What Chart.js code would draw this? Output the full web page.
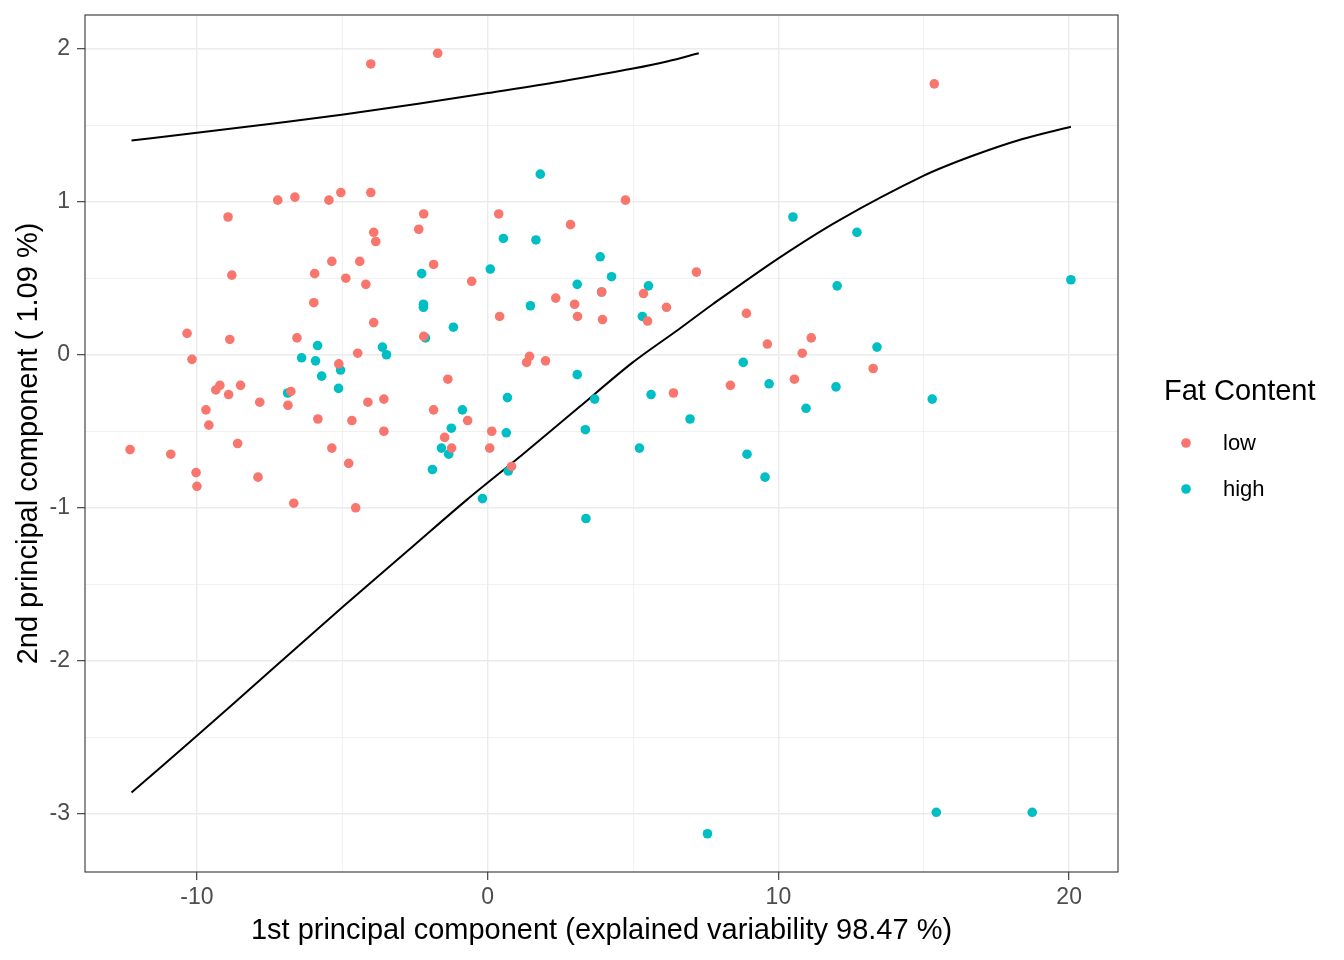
<!DOCTYPE html>
<html>
<head>
<meta charset="utf-8">
<script src="https://cdn.jsdelivr.net/npm/chart.js@4.4.1/dist/chart.umd.min.js"></script>
<style>
  html, body { margin: 0; padding: 0; background: #ffffff; }
  #wrap { width: 1344px; height: 960px; }
</style>
</head>
<body>
<div id="wrap"><canvas id="grafico" width="1344" height="960"></canvas></div>
<script>
// datos (PC1, PC2)
const lowX = [-12.3, -10.9, -10.34, -10.17, -10.03, -10.0, -9.69, -9.59, -8.93, -8.8, -8.87, -9.35, -9.21, -8.91, -8.5,
  -8.6, -7.9, -7.84, -7.22, -6.87, -6.77, -6.63, -6.56, -6.67, -5.95, -5.98, -5.84, -5.46, -5.36, -5.36,
  -5.12, -5.05, -4.88, -4.78, -4.67, -4.54, -4.47, -4.40, -4.19, -4.12, -4.02, -3.92, -3.85, -3.92, -3.57,
  -3.57, -4.02, -1.72, -2.37, -2.2, -1.86, -2.2, -1.86, -1.48, -1.37, -1.24, -0.69, -0.55, 0.38, 0.41,
  0.14, 0.07, 0.82, 1.34, 1.44, 1.99, 2.34, 2.85, 2.99, 3.09, 3.92, 3.95, 4.74, 5.36, 5.5,
  6.15, 6.39, 7.18, 8.35, 8.9, 9.62, 10.55, 10.82, 11.13, 13.26, 15.36];
const lowY = [-0.62, -0.65, 0.14, -0.03, -0.77, -0.86, -0.36, -0.46, 0.90, 0.52, 0.10, -0.23, -0.20, -0.26, -0.20,
  -0.58, -0.80, -0.31, 1.01, -0.33, -0.24, 1.03, 0.11, -0.97, 0.53, 0.34, -0.42, 1.01, 0.61, -0.61,
  -0.06, 1.06, 0.50, -0.71, -0.43, -1.0, 0.01, 0.61, 0.46, -0.31, 1.06, 0.80, 0.74, 0.21, -0.29,
  -0.50, 1.90, 1.97, 0.82, 0.92, 0.59, 0.12, -0.36, -0.54, -0.16, -0.61, -0.43, 0.48, 0.92, 0.25,
  -0.50, -0.61, -0.73, -0.05, -0.01, -0.04, 0.37, 0.85, 0.33, 0.25, 0.41, 0.23, 1.01, 0.40, 0.22,
  0.31, -0.25, 0.54, -0.20, 0.27, 0.07, -0.16, 0.01, 0.11, -0.09, 1.77];

const highX = [-6.88, -6.40, -5.85, -5.92, -5.71, -5.06, -5.13, -3.62, -3.48, -2.27, -2.21, -2.21, -2.14, -1.18,
  -0.87, -1.25, -1.59, -1.34, -1.90, -0.18, 0.09, 0.54, 1.66, 1.81, 1.47, 0.68, 0.64, 0.71,
  3.08, 3.08, 3.87, 4.26, 3.92, 5.53, 5.32, 3.68, 3.36, 3.38, 5.62, 6.96, 5.22, 8.79,
  9.68, 8.92, 9.54, 10.5, 12.7, 12.02, 13.39, 20.06, 11.98, 10.95, 15.29, 7.56, 15.43, 18.73];
const highY = [-0.25, -0.02, 0.06, -0.04, -0.14, -0.10, -0.22, 0.05, 0.00, 0.53, 0.33, 0.31, 0.11, 0.18,
  -0.36, -0.48, -0.61, -0.65, -0.75, -0.94, 0.56, 0.76, 0.75, 1.18, 0.32, -0.28, -0.51, -0.76,
  0.46, -0.13, 0.64, 0.51, 0.41, 0.45, 0.25, -0.29, -0.49, -1.07, -0.26, -0.42, -0.61, -0.05,
  -0.19, -0.65, -0.80, 0.90, 0.80, 0.45, 0.05, 0.49, -0.21, -0.35, -0.29, -3.13, -2.99, -2.99];

// curvas negras
const curvaSupX = [-12.25, -10.0, -7.44, -4.96, -2.39, 0.0, 2.52, 5.0, 6.2, 7.26];
const curvaSupY = [1.40, 1.45, 1.51, 1.57, 1.64, 1.71, 1.786, 1.870, 1.918, 1.97];
const curvaInfX = [-12.25, -10.0, -7.5, -4.97, -2.5, -0.73, 1.21, 3.16, 4.99, 6.6, 7.74, 10.0, 12.1, 15.0, 16.68, 18.4, 20.06];
const curvaInfY = [-2.86, -2.49, -2.07, -1.645, -1.24, -0.95, -0.65, -0.34, -0.05, 0.17, 0.33, 0.63, 0.88, 1.17, 1.30, 1.41, 1.49];

const ticksX = [-10, -5, 0, 5, 10, 15, 20];
const ticksY = [-3, -2.5, -2, -1.5, -1, -0.5, 0, 0.5, 1, 1.5, 2];

const colorLow = "#F8766D";
const colorHigh = "#00BFC4";
const fuente = "'Liberation Sans', Arial, sans-serif";

function pares(xs, ys) {
    return xs.map((x, i) => ({ x: x, y: ys[i] }));
}

const esMayor = v => Math.abs(v - Math.round(v / 10) * 10) < 1e-9;
const esMayorY = v => Math.abs(v - Math.round(v)) < 1e-9;

// borde del panel y leyenda al estilo ggplot
const panelPlugin = {
    id: "panel",
    afterDatasetsDraw(chart) {
        const a = chart.chartArea;
        const ctx = chart.ctx;
        ctx.save();
        ctx.strokeStyle = "#333333";
        ctx.lineWidth = 1.1;
        ctx.strokeRect(a.left, a.top, a.right - a.left, a.bottom - a.top);
        ctx.restore();
    },
    afterDraw(chart) {
        const ctx = chart.ctx;
        ctx.save();
        ctx.fillStyle = "#000000";
        ctx.textBaseline = "middle";
        ctx.textAlign = "left";
        ctx.font = "29px " + fuente;
        ctx.fillText("Fat Content", 1164, 392);
        ctx.font = "22px " + fuente;
        const items = [["low", colorLow, 443], ["high", colorHigh, 489]];
        items.forEach(it => {
            ctx.fillStyle = it[1];
            ctx.beginPath();
            ctx.arc(1186, it[2], 4.8, 0, Math.PI * 2);
            ctx.fill();
            ctx.fillStyle = "#000000";
            ctx.fillText(it[0], 1223, it[2] + 1);
        });
        ctx.restore();
    }
};

const ctxScatter = document.getElementById("grafico");

new Chart(ctxScatter, {
    type: "scatter",
    data: {
        datasets: [
            {
                label: "low",
                data: pares(lowX, lowY),
                backgroundColor: colorLow,
                borderWidth: 0,
                pointRadius: 4.8,
                order: 1
            },
            {
                label: "high",
                data: pares(highX, highY),
                backgroundColor: colorHigh,
                borderWidth: 0,
                pointRadius: 4.8,
                order: 1
            },
            {
                type: "line",
                label: "curva1",
                data: pares(curvaSupX, curvaSupY),
                borderColor: "#000000",
                borderWidth: 2,
                pointRadius: 0,
                fill: false,
                cubicInterpolationMode: "monotone",
                order: 2
            },
            {
                type: "line",
                label: "curva2",
                data: pares(curvaInfX, curvaInfY),
                borderColor: "#000000",
                borderWidth: 2,
                pointRadius: 0,
                fill: false,
                tension: 0.3,
                order: 2
            }
        ]
    },
    options: {
        responsive: false,
        animation: false,
        devicePixelRatio: 1,
        layout: { padding: { top: 15, right: 226, bottom: 0, left: 0 } },
        plugins: {
            legend: { display: false },
            tooltip: { enabled: false }
        },
        scales: {
            x: {
                type: "linear",
                min: -13.85,
                max: 21.68,
                afterBuildTicks: scale => { scale.ticks = ticksX.map(v => ({ value: v })); },
                afterFit: scale => {
                    scale.height = 88;
                    scale.paddingLeft = 0;
                    scale.paddingRight = 0;
                },
                border: { display: false },
                grid: {
                    color: "#EBEBEB",
                    lineWidth: c => esMayor(c.tick.value) ? 1.4 : 0.7,
                    tickColor: c => esMayor(c.tick.value) ? "#333333" : "rgba(0,0,0,0)",
                    tickWidth: 1.1,
                    tickLength: 8
                },
                ticks: {
                    color: "#4D4D4D",
                    font: { family: fuente, size: 23 },
                    padding: 4,
                    maxRotation: 0,
                    autoSkip: false,
                    callback: v => esMayor(v) ? String(v) : ""
                },
                title: {
                    display: true,
                    text: "1st principal component (explained variability 98.47 %)",
                    color: "#000000",
                    font: { family: fuente, size: 29 },
                    padding: { top: 0, bottom: 12 }
                }
            },
            y: {
                type: "linear",
                min: -3.38,
                max: 2.22,
                afterBuildTicks: scale => { scale.ticks = ticksY.map(v => ({ value: v })); },
                afterFit: scale => {
                    scale.width = 85;
                    scale.paddingTop = 0;
                    scale.paddingBottom = 0;
                },
                border: { display: false },
                grid: {
                    color: "#EBEBEB",
                    lineWidth: c => esMayorY(c.tick.value) ? 1.4 : 0.7,
                    tickColor: c => esMayorY(c.tick.value) ? "#333333" : "rgba(0,0,0,0)",
                    tickWidth: 1.1,
                    tickLength: 8
                },
                ticks: {
                    color: "#4D4D4D",
                    font: { family: fuente, size: 23 },
                    padding: 7,
                    autoSkip: false,
                    callback: v => esMayorY(v) ? String(v) : ""
                },
                title: {
                    display: true,
                    text: "2nd principal component ( 1.09 %)",
                    color: "#000000",
                    font: { family: fuente, size: 29 },
                    padding: { top: 12, bottom: 0 }
                }
            }
        }
    },
    plugins: [panelPlugin]
});
</script>
</body>
</html>
